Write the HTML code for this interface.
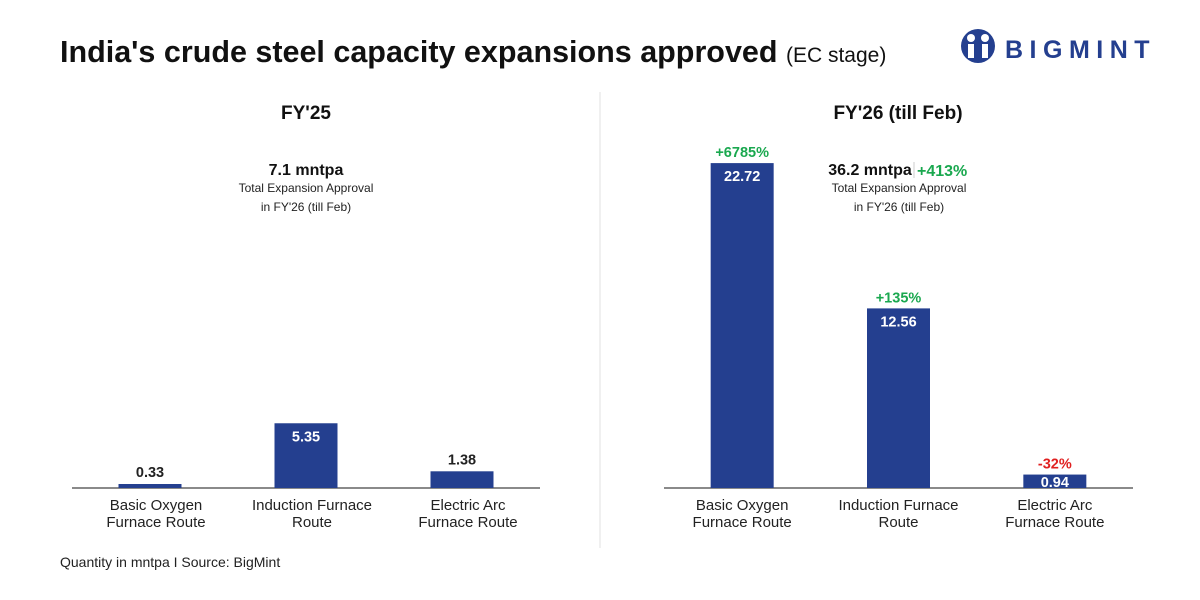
<!DOCTYPE html>
<html><head><meta charset="utf-8"><style>
body{margin:0;background:#fff;font-family:"Liberation Sans",sans-serif}
svg{display:block}
</style></head><body>
<svg id="c" width="1200" height="600" xmlns="http://www.w3.org/2000/svg">
<text x="60" y="62" font-size="30.5" font-weight="bold" fill="#111">India's crude steel capacity expansions approved <tspan font-size="21" font-weight="normal">(EC stage)</tspan></text>
<g>
<circle cx="978" cy="46" r="17" fill="#243f8f"/>
<circle cx="971" cy="38" r="4" fill="#fff"/><circle cx="985" cy="38" r="4" fill="#fff"/>
<rect x="968" y="44" width="6" height="14" fill="#fff"/><rect x="982" y="44" width="6" height="14" fill="#fff"/>
<text x="1005" y="58" font-size="25" font-weight="bold" fill="#243f8f" letter-spacing="6.5">BIGMINT</text>
</g>
<line x1="600" y1="92" x2="600" y2="548" stroke="#e2e2e2" stroke-width="1"/>
<text x="306" y="119" font-size="19" font-weight="bold" text-anchor="middle" fill="#111">FY'25</text>
<text x="898" y="119" font-size="19" font-weight="bold" text-anchor="middle" fill="#111">FY'26 (till Feb)</text>
<g>
<text x="306" y="175" font-size="16" font-weight="bold" text-anchor="middle" fill="#111">7.1 mntpa</text>
<text x="306" y="192" font-size="12" text-anchor="middle" fill="#222">Total Expansion Approval</text>
<text x="306" y="211" font-size="12" text-anchor="middle" fill="#222">in FY'26 (till Feb)</text>
</g>
<g>
<text x="870" y="175" font-size="16" font-weight="bold" text-anchor="middle" fill="#111">36.2 mntpa</text>
<line x1="914" y1="162" x2="914" y2="178" stroke="#ccc"/>
<text x="917" y="176" font-size="16" font-weight="bold" fill="#1aa84f">+413%</text>
<text x="899" y="192" font-size="12" text-anchor="middle" fill="#222">Total Expansion Approval</text>
<text x="899" y="211" font-size="12" text-anchor="middle" fill="#222">in FY'26 (till Feb)</text>
</g>
<text x="60" y="567" font-size="14" fill="#222">Quantity in mntpa  I  Source: BigMint</text>
</svg>
<script>
const categories1=["Basic Oxygen|Furnace Route","Induction Furnace|Route","Electric Arc|Furnace Route"];
const fy25Values=[0.33,5.35,1.38];
const fy26Values=[22.72,12.56,0.94];
const fy26Changes=["+6785%","+135%","-32%"];
const NS="http://www.w3.org/2000/svg",svg=document.getElementById('c');
function mk(t,a,p){const e=document.createElementNS(NS,t);for(const k in a)e.setAttribute(k,a[k]);(p||svg).appendChild(e);return e;}
function panel(vals,changes,x0,x1,scale,name){
  const base=488,bw=63,step=(x1-x0)/3;
  const g=mk('g',{});
  
  
  const ax=mk('line',{x1:x0,x2:x1,y1:base,y2:base,stroke:'#444','stroke-width':1.2},g);
  
  
  vals.forEach((v,i)=>{
    const cx=x0+step*(i+0.5),h=v*scale,y=base-h;
    const r=mk('rect',{x:cx-bw/2,y:y,width:bw,height:h,fill:'#243f8f'},g);
    
    
    const lbl=mk('text',{x:cx,'text-anchor':'middle','font-size':14.5,'font-weight':'bold'},g);
    
    
    if(changes){lbl.setAttribute('y',y+(h>25?18:h-1));lbl.setAttribute('fill','#fff');}
    else if(h>30){lbl.setAttribute('y',y+18);lbl.setAttribute('fill','#fff');}
    else{lbl.setAttribute('y',y-7);lbl.setAttribute('fill','#222');}
    lbl.textContent=v.toFixed(2);
    if(changes){
      const c=mk('text',{x:cx,y:y-6,'text-anchor':'middle','font-size':14.5,'font-weight':'bold',fill:changes[i][0]=='-'?'#e02020':'#1aa84f'},g);
      
      
      c.textContent=changes[i];
    }
    categories1[i].split('|').forEach((s,j)=>{
      const t=mk('text',{x:cx+(changes?0:6),y:510+j*17,'text-anchor':'middle','font-size':15,fill:'#222'},g);
      
      
      t.textContent=s;
    });
  });
}
panel(fy25Values,null,72,540,12.1,'fy25-panel');
panel(fy26Values,fy26Changes,664,1133,14.3,'fy26-panel');
</script>
</body></html>
